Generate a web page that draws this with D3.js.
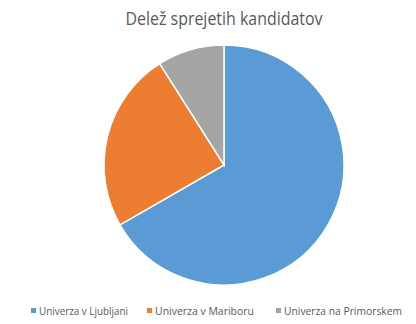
<!DOCTYPE html>
<html>
<head>
<meta charset="utf-8">
<script src="https://cdn.jsdelivr.net/npm/d3@7"></script>
<style>
  body { margin: 0; background: #fff; }
  text { font-family: "Open Sans", "Liberation Sans", sans-serif; fill: #595959; }
</style>
</head>
<body>
<div id="chart"></div>
<script>
// data
var title = "Delež sprejetih kandidatov";
var universities = ["Univerza v Ljubljani", "Univerza v Mariboru", "Univerza na Primorskem"];
var shares = [66.7, 24.3, 9.0];
var colors = ["#5b9bd5", "#ed7d31", "#a5a5a5"];

drawChart();

function drawChart() {
    const width = 416;
    const height = 324;
    const radius = 120;

    const svg = d3.select("#chart").append("svg")
        .attr("width", width)
        .attr("height", height);

    // title
    svg.append("text")
        .attr("x", 224)
        .attr("y", 25)
        .attr("text-anchor", "middle")
        .attr("font-size", 17.5)
        .attr("textLength", 197)
        .attr("lengthAdjust", "spacingAndGlyphs")
        .text(title);

    // pie
    const pie = d3.pie().sort(null)(shares);
    const arc = d3.arc().innerRadius(0).outerRadius(radius);
    const color = d3.scaleOrdinal().domain(universities).range(colors);

    svg.append("g")
        .attr("transform", "translate(224,165)")
        .selectAll("path")
        .data(pie)
        .enter()
        .append("path")
        .attr("d", arc)
        .style("fill", (d, i) => color(universities[i]))
        .style("stroke", "#fff")
        .style("stroke-width", 1.5);

    // legend
    const legendX = [31, 147, 276];
    const legendW = [89, 99, 118];
    const legend = svg.append("g").selectAll("g")
        .data(universities)
        .enter()
        .append("g")
        .attr("transform", (d, i) => `translate(${legendX[i]},311)`);

    legend.append("rect")
        .attr("x", 0)
        .attr("y", -3)
        .attr("width", 5)
        .attr("height", 5)
        .style("fill", d => color(d));

    legend.append("text")
        .attr("x", 8)
        .attr("y", 4)
        .attr("font-size", 11)
        .attr("textLength", (d, i) => legendW[i])
        .attr("lengthAdjust", "spacingAndGlyphs")
        .text(d => d);
}
</script>
</body>
</html>
